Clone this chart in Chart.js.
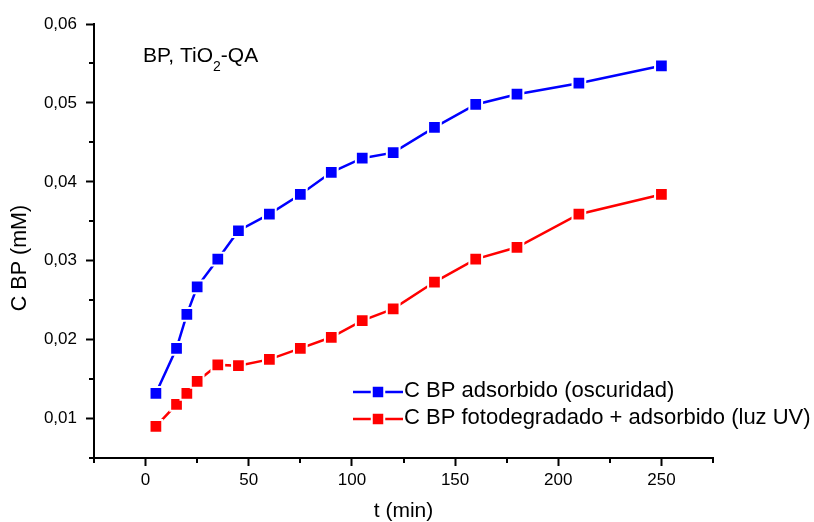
<!DOCTYPE html>
<html>
<head>
<meta charset="utf-8">
<script src="https://cdn.jsdelivr.net/npm/chart.js@4/dist/chart.umd.min.js"></script>
<style>
  html, body { margin: 0; padding: 0; background: #fff; }
  canvas { display: block; }
</style>
</head>
<body>
<canvas id="chart" width="814" height="522"></canvas>
<script>
// 数据：时间 (min) 与 浓度 (mM)
const tiempos = [5, 15, 20, 25, 35, 45, 60, 75, 90, 105, 120, 140, 160, 180, 210, 250];
const adsorbido = [0.0132, 0.0189, 0.0232, 0.0267, 0.0302, 0.0338, 0.0359, 0.0384, 0.0412,
                   0.0430, 0.0437, 0.0469, 0.0498, 0.0511, 0.0525, 0.0547];
const fotodegradado = [0.0090, 0.0118, 0.0132, 0.0147, 0.0168, 0.0167, 0.0175, 0.0189, 0.0203,
                       0.0224, 0.0239, 0.0273, 0.0302, 0.0317, 0.0359, 0.0384];
const nombres = ['C BP adsorbido (oscuridad)', 'C BP fotodegradado + adsorbido (luz UV)'];
const colores = ['#0000ff', '#ff0000'];

const FONT = "'Liberation Sans', Arial, sans-serif";

const isMajorX = v => v >= 0 && v <= 250 && Math.round(v) % 50 === 0;
const isMajorY = v => Math.round(v * 1000) % 10 === 0;

// 画一个方形标记（白色描边，模仿线条在点附近断开）
function drawMarker(ctx, x, y, color) {
    const s = 12.5;
    ctx.save();
    ctx.fillStyle = color;
    ctx.strokeStyle = '#fff';
    ctx.lineWidth = 2;
    ctx.beginPath();
    ctx.rect(x - s / 2, y - s / 2, s, s);
    ctx.fill();
    ctx.stroke();
    ctx.restore();
}

// 次刻度、图例、注释、Y轴标题
const extras = {
    id: 'extras',
    afterDraw(chart) {
        const ctx = chart.ctx;
        const { x, y } = chart.scales;
        const area = chart.chartArea;

        ctx.save();
        ctx.strokeStyle = '#000';
        ctx.lineWidth = 2;
        ctx.beginPath();
        x.ticks.forEach(t => {
            if (isMajorX(t.value)) return;
            const px = Math.round(x.getPixelForValue(t.value));
            ctx.moveTo(px, area.bottom);
            ctx.lineTo(px, area.bottom + 5);
        });
        y.ticks.forEach(t => {
            if (isMajorY(t.value)) return;
            const py = Math.round(y.getPixelForValue(t.value));
            ctx.moveTo(area.left, py);
            ctx.lineTo(area.left - 5, py);
        });
        ctx.stroke();

        // 图例
        ctx.font = '22px ' + FONT;
        ctx.textBaseline = 'middle';
        ctx.fillStyle = '#000';
        const lx = area.left + 259;
        const ly = area.top + 368;
        nombres.forEach((name, i) => {
            const yy = ly + i * 27;
            ctx.strokeStyle = colores[i];
            ctx.lineWidth = 2.5;
            ctx.beginPath();
            ctx.moveTo(lx, yy);
            ctx.lineTo(lx + 50, yy);
            ctx.stroke();
            drawMarker(ctx, lx + 25, yy, colores[i]);
            ctx.fillStyle = '#000';
            ctx.fillText(name, lx + 51, yy - 1);
        });

        // 注释 BP, TiO2-QA
        ctx.textBaseline = 'alphabetic';
        ctx.font = '21px ' + FONT;
        let ax = area.left + 49;
        const ay = area.top + 38;
        ctx.fillText('BP, TiO', ax, ay);
        ax += ctx.measureText('BP, TiO').width;
        ctx.font = '14px ' + FONT;
        ctx.fillText('2', ax, ay + 9);
        ax += ctx.measureText('2').width;
        ctx.font = '21px ' + FONT;
        ctx.fillText('-QA', ax, ay);

        // Y轴标题
        ctx.translate(20, (area.top + area.bottom) / 2 + 17);
        ctx.rotate(-Math.PI / 2);
        ctx.textAlign = 'center';
        ctx.textBaseline = 'middle';
        ctx.font = '21.5px ' + FONT;
        ctx.fillText('C BP (mM)', 0, 0);
        ctx.restore();
    }
};

const ctx = document.getElementById('chart').getContext('2d');
new Chart(ctx, {
    type: 'line',
    data: {
        labels: tiempos,
        datasets: [adsorbido, fotodegradado].map((serie, i) => ({
            label: nombres[i],
            data: serie.map((v, j) => ({ x: tiempos[j], y: v })),
            borderColor: colores[i],
            backgroundColor: colores[i],
            borderWidth: 2.5,
            tension: 0,
            pointStyle: 'rect',
            pointRadius: 9,
            pointBorderColor: '#fff',
            pointBorderWidth: 2,
            pointBackgroundColor: colores[i],
            fill: false
        }))
    },
    options: {
        responsive: false,
        devicePixelRatio: 1,
        animation: false,
        layout: { padding: { top: 24, right: 101, bottom: 0, left: 0 } },
        plugins: {
            legend: { display: false },
            tooltip: { enabled: false }
        },
        scales: {
            x: {
                type: 'linear',
                min: -25,
                max: 275,
                afterFit: s => { s.height = 64; },
                ticks: {
                    stepSize: 25,
                    autoSkip: false,
                    maxRotation: 0,
                    padding: 4,
                    color: '#000',
                    font: { family: FONT, size: 17 },
                    callback: v => isMajorX(v) ? String(v) : ''
                },
                grid: {
                    display: true,
                    drawOnChartArea: false,
                    drawTicks: true,
                    tickLength: 8,
                    tickWidth: 2,
                    tickColor: c => isMajorX(c.tick.value) ? '#000' : 'rgba(0,0,0,0)'
                },
                border: { display: true, color: '#000', width: 2 },
                title: {
                    display: true,
                    text: 't (min)',
                    color: '#000',
                    padding: 0,
                    font: { family: FONT, size: 21, lineHeight: 1 }
                }
            },
            y: {
                type: 'linear',
                min: 0.005,
                max: 0.06,
                afterFit: s => { s.width = 94; },
                ticks: {
                    stepSize: 0.005,
                    autoSkip: false,
                    padding: 9,
                    color: '#000',
                    font: { family: FONT, size: 17 },
                    callback: v => isMajorY(v) ? v.toFixed(2).replace('.', ',') : ''
                },
                grid: {
                    display: true,
                    drawOnChartArea: false,
                    drawTicks: true,
                    tickLength: 8,
                    tickWidth: 2,
                    tickColor: c => isMajorY(c.tick.value) ? '#000' : 'rgba(0,0,0,0)'
                },
                border: { display: true, color: '#000', width: 2 }
            }
        }
    },
    plugins: [extras]
});
</script>
</body>
</html>
